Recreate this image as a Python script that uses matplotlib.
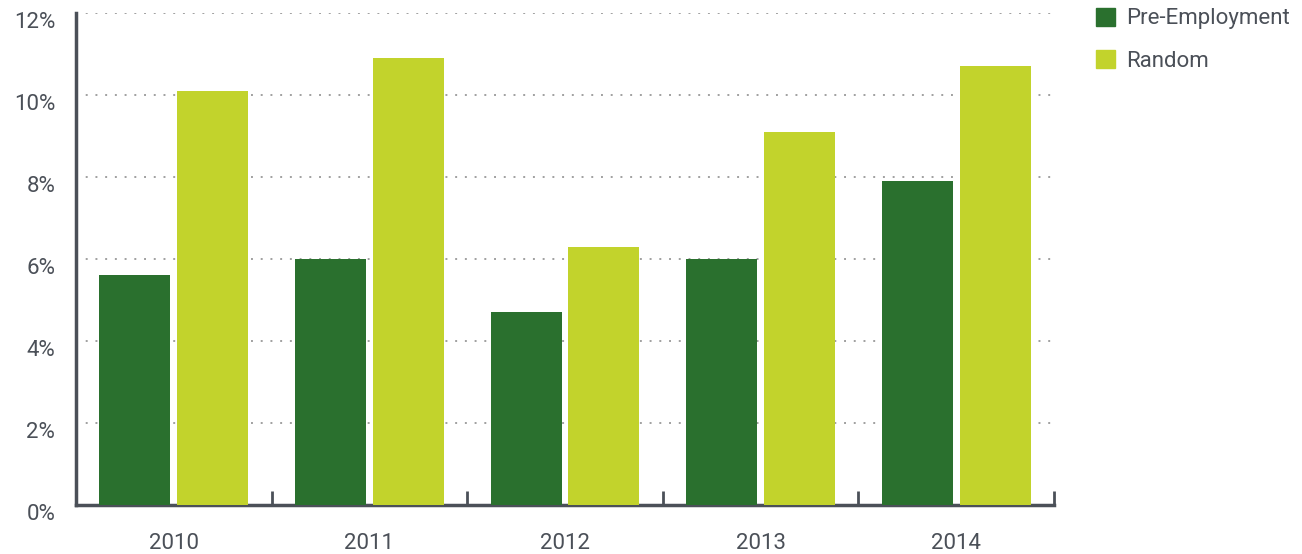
import matplotlib
matplotlib.use("Agg")
import matplotlib.pyplot as plt
from matplotlib.patches import Patch
from matplotlib.transforms import ScaledTranslation
import numpy as np

years = ["2010", "2011", "2012", "2013", "2014"]
pre_employment = [5.6, 6.0, 4.7, 6.0, 7.9]
random_vals = [10.1, 10.9, 6.3, 9.1, 10.7]
yticks = [0, 2, 4, 6, 8, 10, 12]
ytick_labels = ["0%", "2%", "4%", "6%", "8%", "10%", "12%"]

c_pre = "#2a702e"
c_rand = "#c2d32c"
c_axis = "#4b5058"
c_text = "#4b5058"

plt.rcParams['font.family'] = ['Roboto', 'DejaVu Sans']

fig = plt.figure(figsize=(13.02, 5.54), dpi=100)
ax = fig.add_axes([76/1302, 49/554, (1054-76)/1302, (505-13)/554])

x = np.arange(len(years))
w = 0.363
ax.bar(x - 0.199, pre_employment, width=w, color=c_pre, zorder=3)
ax.bar(x + 0.199, random_vals, width=w, color=c_rand, zorder=3)

ax.set_xlim(-0.5, len(years) - 0.5)
ax.set_ylim(0, 12)
ax.set_yticks(yticks)
ax.set_yticklabels(ytick_labels)
ax.yaxis.grid(True, linestyle=(0, (1, 4)), color="#a0a0a0", linewidth=1.4, zorder=0)
for s in ["top", "right"]:
    ax.spines[s].set_visible(False)
for s in ["left", "bottom"]:
    ax.spines[s].set_color(c_axis)
    ax.spines[s].set_linewidth(2.5)
ax.tick_params(axis="y", length=0, labelsize=16, labelcolor=c_text, pad=15)
offset = ScaledTranslation(0, -7/100, fig.dpi_scale_trans)
for lbl in ax.get_yticklabels():
    lbl.set_transform(lbl.get_transform() + offset)

ax.set_xticks(x)
ax.set_xticklabels(years)
ax.tick_params(axis="x", length=0, labelsize=16, labelcolor=c_text, pad=20)
# boundary ticks pointing up
ax.set_xticks(np.arange(len(years) + 1) - 0.5, minor=True)
ax.tick_params(axis="x", which="minor", direction="in", length=10, width=2, color=c_axis)

handles = [Patch(color=c_pre, label="Pre-Employment"), Patch(color=c_rand, label="Random")]
leg = fig.legend(handles=handles, loc="upper left", bbox_to_anchor=(1076/1302, 1.022),
                 frameon=False, fontsize=16, handlelength=0.85, handleheight=0.85,
                 handletextpad=0.5, labelspacing=0.95, labelcolor=c_text)

fig.savefig("out.png", dpi=100)
